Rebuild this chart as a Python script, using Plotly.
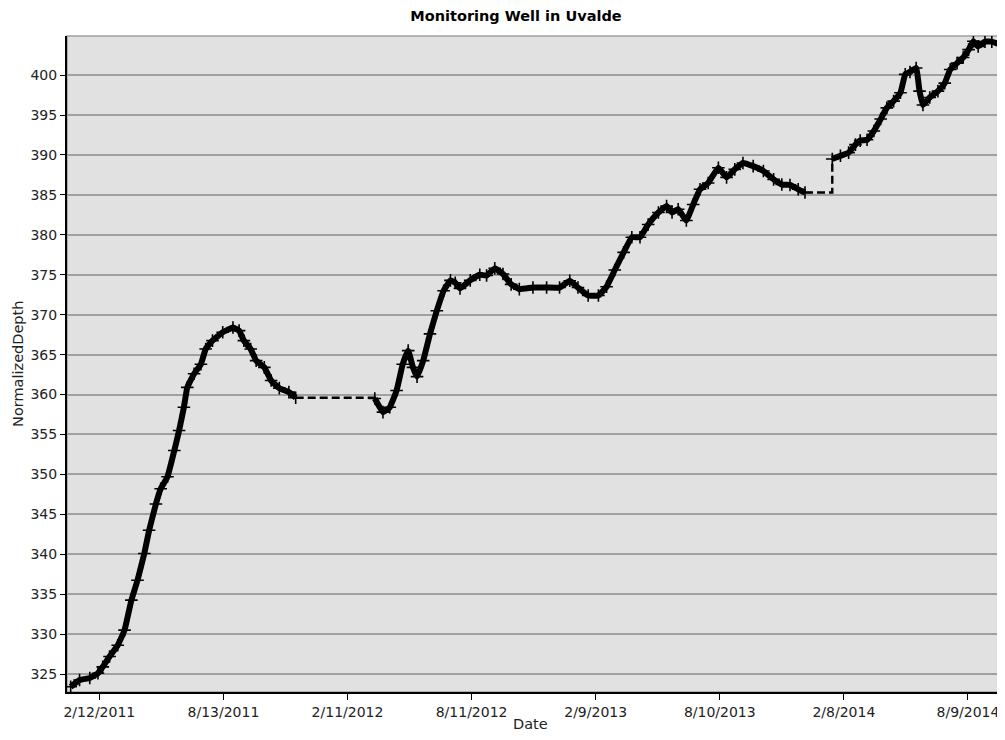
import plotly.graph_objects as go

title_text = "Monitoring Well in Uvalde"
x_title = "Date"
y_title = "NormalizedDepth"

seg1_dates = ["2011-01-01", "2011-01-14", "2011-01-29", "2011-02-10", "2011-02-17", "2011-02-27",
              "2011-03-11", "2011-03-21", "2011-03-31", "2011-04-09", "2011-04-19", "2011-04-26",
              "2011-05-06", "2011-05-13", "2011-05-23", "2011-06-02", "2011-06-09", "2011-06-16",
              "2011-06-21", "2011-07-01", "2011-07-11", "2011-07-18", "2011-07-28", "2011-08-12",
              "2011-08-27", "2011-09-05", "2011-09-12", "2011-09-22", "2011-09-30", "2011-10-12",
              "2011-10-22", "2011-11-03", "2011-11-17", "2011-11-27"]
seg1_depth = [323.4, 324.25, 324.5, 325.1, 325.9, 327.2,
              328.6, 330.5, 334.25, 336.75, 340.1, 343.0,
              346.3, 348.2, 349.7, 353.0, 355.5, 358.4,
              360.9, 362.6, 363.8, 365.7, 366.75, 367.8,
              368.4, 368.0, 366.75, 365.7, 364.25, 363.4,
              361.75, 360.8, 360.3, 359.6]

seg2_dates = ["2012-03-22", "2012-04-03", "2012-04-13", "2012-04-23", "2012-05-02", "2012-05-10",
              "2012-05-17", "2012-05-23", "2012-06-01", "2012-06-11", "2012-06-21", "2012-07-01",
              "2012-07-11", "2012-07-18", "2012-07-25", "2012-08-09", "2012-08-23", "2012-09-02",
              "2012-09-14", "2012-09-26", "2012-10-08", "2012-10-20", "2012-11-09", "2012-11-29",
              "2012-12-18", "2013-01-02", "2013-01-14", "2013-01-29", "2013-02-13", "2013-02-25",
              "2013-03-09", "2013-03-22", "2013-04-03", "2013-04-15", "2013-04-27", "2013-05-12",
              "2013-05-24", "2013-06-01", "2013-06-10", "2013-06-22", "2013-07-02", "2013-07-12",
              "2013-07-24", "2013-08-08", "2013-08-20", "2013-09-01", "2013-09-13", "2013-09-28",
              "2013-10-13", "2013-10-28", "2013-11-09", "2013-11-21", "2013-12-03", "2013-12-13"]
seg2_depth = [359.5, 357.8, 358.4, 360.5, 363.8, 365.5,
              363.4, 362.25, 364.25, 367.6, 370.5, 373.0,
              374.3, 374.0, 373.3, 374.3, 375.0, 374.9,
              375.8, 375.1, 373.8, 373.2, 373.4, 373.4,
              373.4, 374.25, 373.4, 372.4, 372.4, 373.5,
              375.6, 377.8, 379.7, 379.7, 381.3, 382.8,
              383.6, 382.8, 383.2, 381.8, 383.8, 385.7,
              386.5, 388.4, 387.2, 388.2, 389.0, 388.6,
              388.0, 386.95, 386.3, 386.25, 385.7, 385.3]

seg3_dates = ["2014-01-22", "2014-02-03", "2014-02-15", "2014-02-25", "2014-03-04", "2014-03-14",
              "2014-03-24", "2014-04-03", "2014-04-12", "2014-04-22", "2014-05-02", "2014-05-09",
              "2014-05-16", "2014-05-25", "2014-05-30", "2014-06-04", "2014-06-14", "2014-06-26",
              "2014-07-06", "2014-07-14", "2014-07-24", "2014-08-02", "2014-08-10", "2014-08-17",
              "2014-08-24", "2014-09-03", "2014-09-13", "2014-09-23"]
seg3_depth = [389.5, 389.9, 390.3, 391.3, 391.8, 391.9,
              393.0, 394.5, 395.9, 396.75, 397.8, 400.1,
              400.4, 400.9, 398.0, 396.25, 397.2, 398.0,
              399.0, 400.7, 401.5, 402.2, 403.2, 404.25,
              403.6, 404.2, 404.2, 403.9]

segments = [(seg1_dates, seg1_depth), (seg2_dates, seg2_depth), (seg3_dates, seg3_depth)]

fig = go.Figure()

# dashed connectors across data gaps
for (da, va), (db, vb) in zip(segments[:-1], segments[1:]):
    fig.add_trace(go.Scatter(
        x=[da[-1], db[0]], y=[va[-1], vb[0]], mode="lines",
        line=dict(color="black", width=2.4, dash="8px,4px", shape="hv"),
        showlegend=False, hoverinfo="skip"))

for d, v in segments:
    fig.add_trace(go.Scatter(
        x=d, y=v, mode="lines+markers",
        line=dict(color="black", width=6, shape="spline", smoothing=0.3),
        marker=dict(symbol="cross-thin", size=9, line=dict(color="black", width=1.6)),
        showlegend=False))

W, H = 997, 724
ML, MR, MT, MB = 59, 2, 28, 40

fig.update_layout(
    width=W, height=H,
    margin=dict(l=ML, r=MR, t=MT, b=MB),
    paper_bgcolor="white",
    plot_bgcolor="#e1e1e1",
    font=dict(family="DejaVu Sans, Verdana, sans-serif", size=14, color="#222222"),
    title=dict(text="<b>" + title_text + "</b>", x=508 / W, xanchor="center",
               y=1 - 8 / H, yanchor="middle",
               font=dict(family="DejaVu Sans, Verdana, sans-serif", size=14.5, color="black")),
    shapes=[dict(type="rect", xref="paper", yref="paper", x0=0, y0=0, x1=1, y1=1,
                 line=dict(color="#a0a0a0", width=1.5), layer="below")],
    annotations=[
        dict(text=x_title, xref="paper", yref="paper", x=0.4947, y=-0.049,
             xanchor="center", yanchor="middle", showarrow=False,
             font=dict(size=14.5, color="#222222")),
        dict(text=y_title, xref="paper", yref="paper", x=-0.0524, y=0.5,
             xanchor="center", yanchor="middle", textangle=-90, showarrow=False,
             font=dict(size=14.5, color="#222222")),
    ],
)

fig.update_xaxes(
    type="date",
    range=["2010-12-26 14:00", "2014-09-29 10:00"],
    tickmode="linear", tick0="2011-02-12", dtick=182 * 86400000,
    tickformat="%-m/%-d/%Y",
    showgrid=False, zeroline=False,
    showline=True, linecolor="black", linewidth=2,
    ticks="outside", ticklen=6, tickcolor="black", tickwidth=1,
    tickfont=dict(size=14),
    automargin=False,
)
fig.update_yaxes(
    range=[322.75, 404.9],
    tickmode="linear", tick0=325, dtick=5,
    showgrid=True, gridcolor="#a0a0a0", gridwidth=1.5,
    zeroline=False,
    showline=True, linecolor="black", linewidth=2,
    ticks="outside", ticklen=5, tickcolor="black", tickwidth=1,
    tickfont=dict(size=14),
    automargin=False,
)

fig.write_html("out.html")
